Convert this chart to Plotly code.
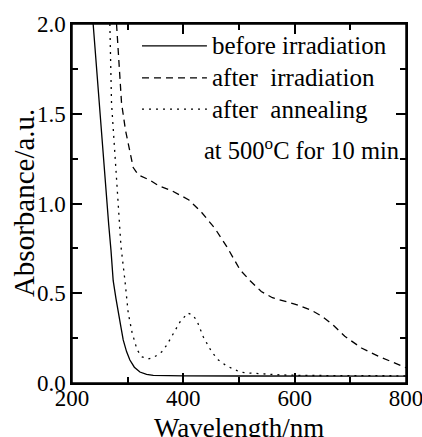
import plotly.graph_objects as go

# ---- data ----
series_names = ["before irradiation", "after&nbsp; irradiation", "after&nbsp; annealing"]
note_text = "at 500<sup>o</sup>C for 10 min"

before_nm = [238, 246, 254, 260.5, 266, 270, 274, 279, 283, 288, 292, 298, 304, 312, 322, 334, 346, 370, 400, 500, 600, 700, 800]
before_abs = [2.0, 1.67, 1.34, 1.075, 0.88, 0.74, 0.57, 0.47, 0.39, 0.31, 0.24, 0.175, 0.128, 0.088, 0.061, 0.048, 0.042, 0.040, 0.040, 0.039, 0.039, 0.038, 0.038]

irr_nm = [280, 283, 289, 296, 304, 310, 319, 340, 355, 380, 410, 433, 457, 478, 502, 520, 540, 560, 600, 630, 650, 670, 690, 720, 750, 780, 800]
irr_abs = [2.0, 1.84, 1.56, 1.41, 1.28, 1.20, 1.16, 1.13, 1.10, 1.07, 1.02, 0.95, 0.86, 0.76, 0.63, 0.57, 0.51, 0.475, 0.44, 0.405, 0.37, 0.32, 0.26, 0.195, 0.15, 0.11, 0.085]

ann_nm = [268, 271, 277, 281.5, 288, 295, 301, 308, 317, 326, 337, 348, 361, 370, 379, 394, 408, 416, 424, 436, 451, 463, 478, 502, 516, 540, 574, 620, 700, 800]
ann_abs = [2.0, 1.56, 1.28, 1.09, 0.76, 0.574, 0.39, 0.28, 0.184, 0.145, 0.134, 0.145, 0.173, 0.21, 0.256, 0.34, 0.39, 0.38, 0.35, 0.256, 0.173, 0.128, 0.095, 0.061, 0.056, 0.05, 0.045, 0.042, 0.04, 0.04]

x_title = "Wavelength/nm"
y_title = "Absorbance/a.u."

FONT = "Liberation Serif, Times New Roman, serif"
dashes = ["solid", "7px,5px", "2px,5px"]

fig = go.Figure()
for nm, ab, d in [(before_nm, before_abs, dashes[0]), (irr_nm, irr_abs, dashes[1]), (ann_nm, ann_abs, dashes[2])]:
    fig.add_trace(go.Scatter(x=nm, y=ab, mode="lines",
                             line=dict(color="black", width=1.3, dash=d),
                             showlegend=False))

# frame around the plotting area
fig.add_shape(type="rect", xref="paper", yref="paper", x0=0, x1=1, y0=0, y1=1,
              line=dict(color="black", width=1.5), layer="above")

# manual legend
leg_y = [0.939, 0.850, 0.763]
for name, d, yy in zip(series_names, dashes, leg_y):
    fig.add_shape(type="line", xref="paper", yref="paper", x0=0.2096, x1=0.404, y0=yy, y1=yy,
                  line=dict(color="black", width=1.3, dash=d))
    fig.add_annotation(xref="paper", yref="paper", x=0.412, y=yy, text=name, showarrow=False,
                       xanchor="left", yanchor="middle", font=dict(family=FONT, size=25, color="black"))
fig.add_annotation(xref="paper", yref="paper", x=0.39, y=0.652, text=note_text, showarrow=False,
                   xanchor="left", yanchor="middle", font=dict(family=FONT, size=24.5, color="black"))

# axis titles as annotations
fig.add_annotation(xref="paper", yref="paper", x=0.5, y=-0.125, text=x_title, showarrow=False,
                   xanchor="center", yanchor="middle", font=dict(family=FONT, size=27, color="black"))
fig.add_annotation(xref="paper", yref="paper", x=-0.145, y=0.5, text=y_title, showarrow=False,
                   textangle=-90, xanchor="center", yanchor="middle",
                   font=dict(family=FONT, size=29, color="black"))

axis_common = dict(showline=True, linecolor="black", linewidth=1.5, mirror="allticks",
                   ticks="inside", tickwidth=1.5, ticklen=10, tickcolor="black",
                   showgrid=False, zeroline=False, ticklabeloverflow="allow",
                   tickfont=dict(family=FONT, size=23, color="black"))

fig.update_xaxes(range=[200, 800], dtick=200, tick0=200, ticklabelstandoff=-6,
                 minor=dict(ticks="inside", ticklen=6, dtick=100, tickcolor="black", tickwidth=1.5),
                 **axis_common)
fig.update_yaxes(range=[0, 2.0], dtick=0.5, tick0=0, tickformat=".1f",
                 minor=dict(ticks="inside", ticklen=6, dtick=0.25, tickcolor="black", tickwidth=1.5),
                 **axis_common)

fig.update_layout(width=422, height=437, margin=dict(l=72, r=16, t=24, b=54, autoexpand=False),
                  paper_bgcolor="white", plot_bgcolor="white",
                  font=dict(family=FONT, color="black"))

# remove the default 8px page margin so the figure fills the window exactly
fig.write_html("out.html", config={"displayModeBar": False},
               post_script="document.body.style.margin='0px';")
